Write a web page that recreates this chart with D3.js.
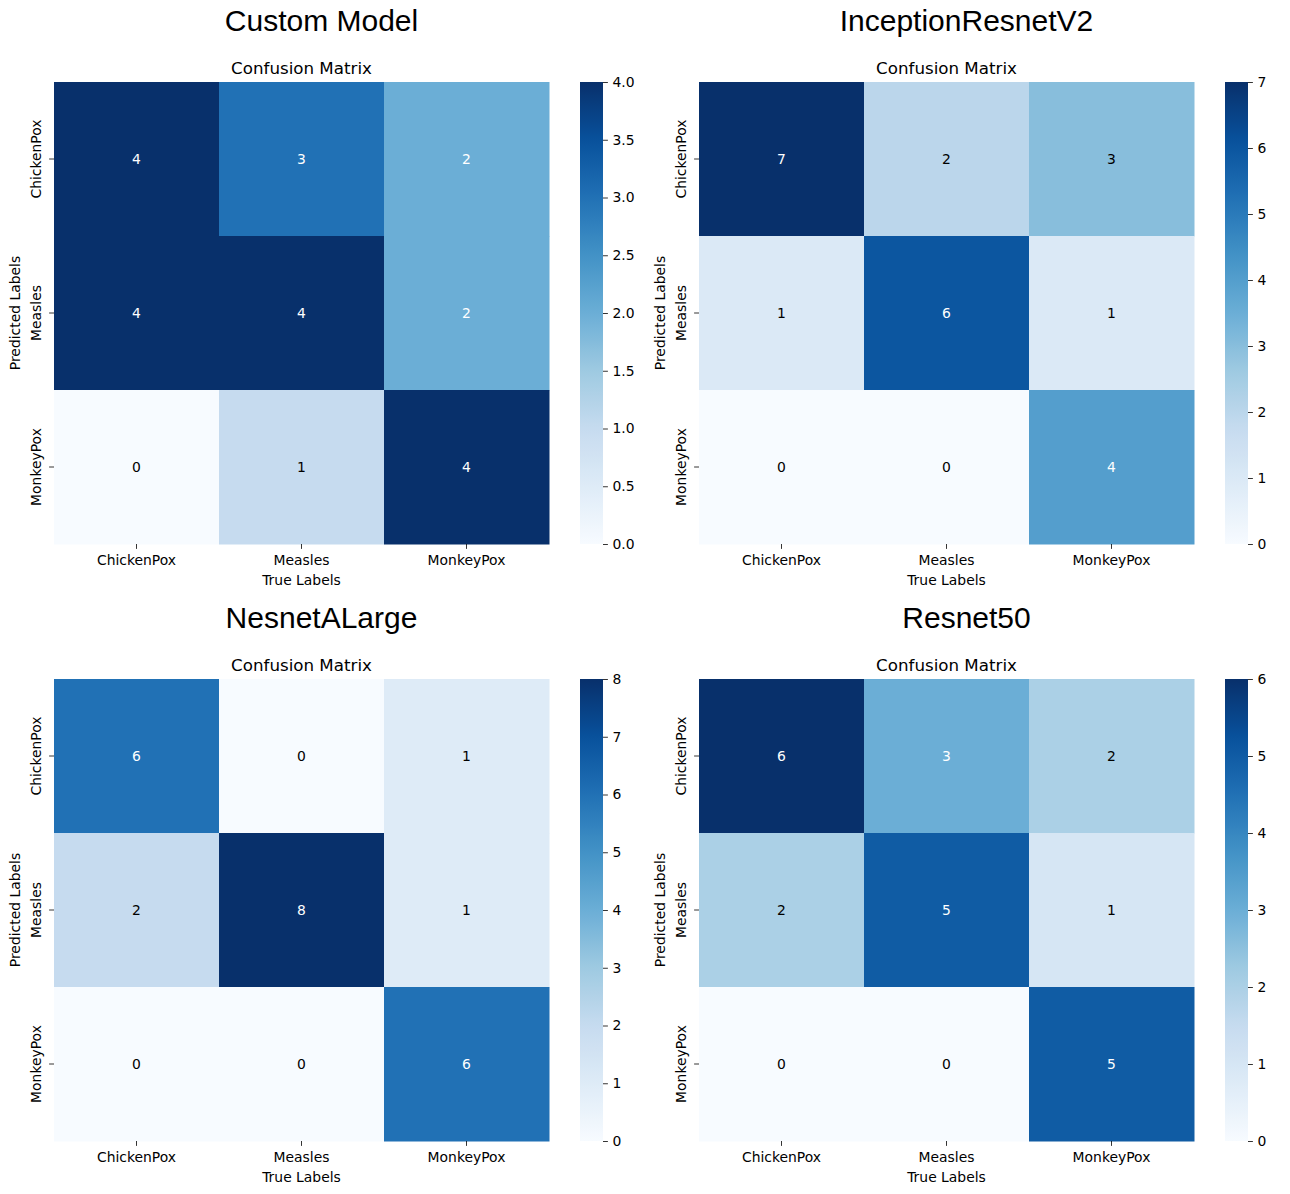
<!DOCTYPE html>
<html>
<head>
<meta charset="utf-8">
<script src="https://cdn.jsdelivr.net/npm/d3@7"></script>
<style>
  body { margin: 0; background: #fff; }
  svg { display: block; }
</style>
</head>
<body>
<svg id="chart" width="1290" height="1194"></svg>
<script>
// ---- data ----
const classes = ["ChickenPox", "Measles", "MonkeyPox"];
const modelNames = ["Custom Model", "InceptionResnetV2", "NesnetALarge", "Resnet50"];
const customModel = [[4, 3, 2], [4, 4, 2], [0, 1, 4]];
const inceptionResnetV2 = [[7, 2, 3], [1, 6, 1], [0, 0, 4]];
const nesnetALarge = [[6, 0, 1], [2, 8, 1], [0, 0, 6]];
const resnet50 = [[6, 3, 2], [2, 5, 1], [0, 0, 5]];
const customTicks = ["0.0", "0.5", "1.0", "1.5", "2.0", "2.5", "3.0", "3.5", "4.0"];
const inceptionTicks = ["0", "1", "2", "3", "4", "5", "6", "7"];
const nesnetTicks = ["0", "1", "2", "3", "4", "5", "6", "7", "8"];
const resnetTicks = ["0", "1", "2", "3", "4", "5", "6"];
const matrices = [customModel, inceptionResnetV2, nesnetALarge, resnet50];
const tickSets = [customTicks, inceptionTicks, nesnetTicks, resnetTicks];

// matplotlib "Blues" anchors
const bluesAnchors = ["#f7fbff","#deebf7","#c6dbef","#9ecae1","#6baed6","#4292c6","#2171b5","#08519c","#08306b"];
const blues = d3.scaleLinear()
  .domain(d3.range(bluesAnchors.length).map(i => i / (bluesAnchors.length - 1)))
  .range(bluesAnchors)
  .interpolate(d3.interpolateRgb);

function relLum(c) {
  const rgb = d3.rgb(c);
  const f = v => { v /= 255; return v <= 0.03928 ? v / 12.92 : Math.pow((v + 0.055) / 1.055, 2.4); };
  return 0.2126 * f(rgb.r) + 0.7152 * f(rgb.g) + 0.0722 * f(rgb.b);
}

const svg = d3.select("#chart");
const defs = svg.append("defs");
const grad = defs.append("linearGradient").attr("id", "bluesGrad")
  .attr("x1", 0).attr("y1", 1).attr("x2", 0).attr("y2", 0);
d3.range(0, 1.0001, 0.02).forEach(t => {
  grad.append("stop").attr("offset", t).attr("stop-color", blues(t));
});

const FONT = "'DejaVu Sans', sans-serif";
const panels = [
  { x0: 54, y0: 82 }, { x0: 699, y0: 82 },
  { x0: 54, y0: 679 }, { x0: 699, y0: 679 }
];
const W = 495, H = 462, cbOff = 526, cbW = 23;

panels.forEach((p, k) => {
  const data = matrices[k];
  const ticks = tickSets[k];
  const vmax = +ticks[ticks.length - 1];
  const g = svg.append("g").attr("transform", `translate(${p.x0},${p.y0})`);

  const x = d3.scaleBand().domain(classes).range([0, W]);
  const y = d3.scaleBand().domain(classes).range([0, H]);
  const color = v => blues(v / vmax);

  // suptitle
  svg.append("text")
    .attr("x", p.x0 + W / 2 + 20).attr("y", p.y0 - 51)
    .attr("text-anchor", "middle")
    .attr("font-family", "'Liberation Sans', Arial, sans-serif")
    .attr("font-size", 30).attr("fill", "#000")
    .text(modelNames[k]);

  // axes title
  g.append("text")
    .attr("x", W / 2).attr("y", -8.5)
    .attr("text-anchor", "middle")
    .attr("font-family", FONT).attr("font-size", 16.7)
    .text("Confusion Matrix");

  // cells
  const cells = [];
  data.forEach((row, i) => row.forEach((v, j) => cells.push({ r: classes[i], c: classes[j], v })));
  g.selectAll("rect.cell").data(cells).join("rect")
    .attr("class", "cell")
    .attr("x", d => x(d.c)).attr("y", d => y(d.r))
    .attr("width", x.bandwidth() + 0.5).attr("height", y.bandwidth() + 0.5)
    .attr("fill", d => color(d.v));

  g.selectAll("text.val").data(cells).join("text")
    .attr("class", "val")
    .attr("x", d => x(d.c) + x.bandwidth() / 2)
    .attr("y", d => y(d.r) + y.bandwidth() / 2)
    .attr("dy", "0.33em")
    .attr("text-anchor", "middle")
    .attr("font-family", FONT).attr("font-size", 13.9)
    .attr("fill", d => relLum(color(d.v)) > 0.408 ? "#000" : "#fff")
    .text(d => d.v);

  // x axis
  const xAxis = g.append("g").attr("transform", `translate(0,${H})`)
    .call(d3.axisBottom(x).tickSize(4.9).tickPadding(6.5));
  xAxis.select(".domain").remove();
  xAxis.selectAll("line").attr("stroke", "#000").attr("stroke-width", 0.8);
  xAxis.selectAll("text").attr("font-family", FONT).attr("font-size", 13.9).attr("fill", "#000");

  g.append("text")
    .attr("x", W / 2).attr("y", H + 41)
    .attr("text-anchor", "middle")
    .attr("font-family", FONT).attr("font-size", 13.9)
    .text("True Labels");

  // y axis
  const yAxis = g.append("g").call(d3.axisLeft(y).tickSize(4.9).tickPadding(4.5));
  yAxis.select(".domain").remove();
  yAxis.selectAll("line").attr("stroke", "#000").attr("stroke-width", 0.8);
  yAxis.selectAll("text")
    .attr("font-family", FONT).attr("font-size", 13.9).attr("fill", "#000")
    .attr("x", null).attr("dy", null)
    .attr("text-anchor", "middle")
    .attr("transform", "translate(-13,0) rotate(-90)");

  g.append("text")
    .attr("transform", `translate(-34,${H / 2}) rotate(-90)`)
    .attr("text-anchor", "middle")
    .attr("font-family", FONT).attr("font-size", 13.9)
    .text("Predicted Labels");

  // colorbar
  const cb = g.append("g").attr("transform", `translate(${cbOff},0)`);
  cb.append("rect").attr("width", cbW).attr("height", H).attr("fill", "url(#bluesGrad)");
  const cy = d3.scaleLinear().domain([0, vmax]).range([H, 0]);
  const cAxis = cb.append("g").attr("transform", `translate(${cbW},0)`)
    .call(d3.axisRight(cy).tickValues(ticks.map(Number)).tickFormat((d, i) => ticks[i]).tickSize(4.9).tickPadding(4.5));
  cAxis.select(".domain").remove();
  cAxis.selectAll("line").attr("stroke", "#000").attr("stroke-width", 0.8);
  cAxis.selectAll("text").attr("font-family", FONT).attr("font-size", 13.9).attr("fill", "#000");
});
</script>
</body>
</html>
